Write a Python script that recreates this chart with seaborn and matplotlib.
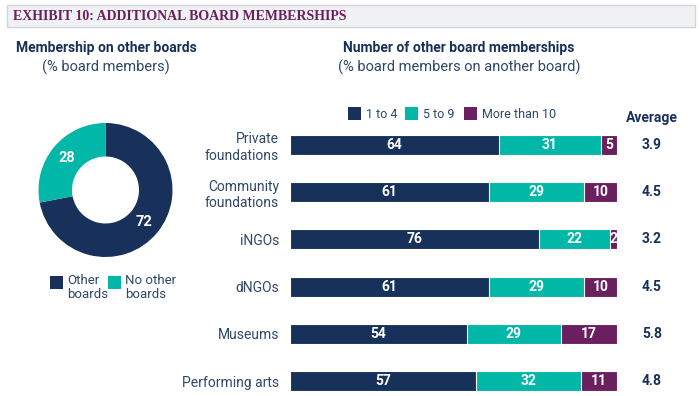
import matplotlib
matplotlib.use("Agg")
import matplotlib.pyplot as plt
from matplotlib.patches import Rectangle
from matplotlib.transforms import blended_transform_factory
import seaborn as sns
import pandas as pd
import numpy as np

# data read from the exhibit
categories = ["Private\nfoundations", "Community\nfoundations", "iNGOs", "dNGOs", "Museums", "Performing arts"]
one_to_four = [64, 61, 76, 61, 54, 57]
five_to_nine = [31, 29, 22, 29, 29, 32]
more_than_ten = [5, 10, 2, 10, 17, 11]
averages = ["3.9", "4.5", "3.2", "4.5", "5.8", "4.8"]

donut_labels = ["Other\nboards", "No other\nboards"]
donut_values = [72, 28]

NAVY = "#17315a"
TEAL = "#00b7a8"
PURPLE = "#6a1f5f"
TXT = "#2e4868"

sns.set_theme(style="white")
plt.rcParams["font.family"] = ["Roboto", "DejaVu Sans"]

fig = plt.figure(figsize=(7, 3.96), dpi=100)
W, H = 700, 396

def fx(px):
    return px / W

def fy(py):
    return 1 - py / H

# header band
fig.patches.append(Rectangle((fx(7), fy(27)), fx(688), 22 / H, transform=fig.transFigure,
                             facecolor="#f0f1f3", edgecolor="#d3d3df", lw=1))
fig.text(fx(13), fy(16.5), "EXHIBIT 10: ADDITIONAL BOARD MEMBERSHIPS", family="Liberation Serif",
         fontweight="bold", fontsize=10, color=PURPLE, va="center", ha="left")

# titles
fig.text(fx(106), fy(48), "Membership on other boards", fontsize=10, fontweight="bold",
         color=NAVY, ha="center", va="center")
fig.text(fx(106), fy(67), "(% board members)", fontsize=10.5, color=TXT, ha="center", va="center")
fig.text(fx(459), fy(48), "Number of other board memberships", fontsize=10, fontweight="bold",
         color=NAVY, ha="center", va="center")
fig.text(fx(459), fy(67), "(% board members on another board)", fontsize=10.5, color=TXT,
         ha="center", va="center")

# donut
r = 67
ax1 = fig.add_axes([fx(105.5 - r), fy(190 + r), 2 * r / W, 2 * r / H])
wedges, _ = ax1.pie(donut_values, colors=[NAVY, TEAL], startangle=90, counterclock=False,
                    wedgeprops=dict(width=0.5, edgecolor="none"))
for w, v in zip(wedges, donut_values):
    ang = np.deg2rad((w.theta1 + w.theta2) / 2)
    ax1.text(0.75 * np.cos(ang), 0.75 * np.sin(ang), str(v), color="white", fontsize=10.5,
             fontweight="bold", ha="center", va="center")
ax1.set_xlim(-1, 1)
ax1.set_ylim(-1, 1)
ax1.set_aspect("equal")
ax1.axis("off")

# donut legend
for x0, lab, col in [(50, donut_labels[0], NAVY), (108, donut_labels[1], TEAL)]:
    fig.patches.append(Rectangle((fx(x0), fy(289)), 13 / W, 13 / H, transform=fig.transFigure,
                                 facecolor=col, edgecolor="none"))
    fig.text(fx(x0 + 17), fy(274), lab, fontsize=9.5, color=TXT, ha="left", va="top",
             linespacing=1.15)

# stacked bars (draw cumulative totals, back to front)
df = pd.DataFrame({"cat": categories, "a": one_to_four, "b": five_to_nine, "c": more_than_ten})
df["ab"] = df["a"] + df["b"]
df["abc"] = df["ab"] + df["c"]

unit = 47.2
top = 145 - unit / 2
ax2 = fig.add_axes([fx(290), 0, fx(327), (H - top) / H])
bh = 20 / unit
for col, colr in [("abc", PURPLE), ("ab", TEAL), ("a", NAVY)]:
    sns.barplot(data=df, x=col, y="cat", color=colr, width=bh, ax=ax2, orient="h",
                saturation=1, edgecolor="white", linewidth=0.8)
ax2.set_xlim(0, 100)
ax2.set_ylim(-0.5 + (H - top) / unit, -0.5)
avg_tr = blended_transform_factory(fig.transFigure, ax2.transData)
for i, row in df.iterrows():
    for left, v in [(0, row["a"]), (row["a"], row["b"]), (row["ab"], row["c"])]:
        ax2.text(left + v / 2, i, str(v), color="white", fontsize=10, fontweight="bold",
                 ha="center", va="center")
    ax2.text(fx(652), i, averages[i], transform=avg_tr, ha="center",
             va="center", fontsize=10, fontweight="bold", color=NAVY)
ax2.set_xlabel("")
ax2.set_ylabel("")
ax2.set_xticks([])
ax2.tick_params(axis="y", length=0, pad=8, labelsize=10, labelcolor=TXT)
for lab in ax2.get_yticklabels():
    lab.set_linespacing(1.2)
sns.despine(ax=ax2, left=True, bottom=True)
ax2.patch.set_alpha(0)

# averages heading and bar legend
fig.text(fx(652), fy(118), "Average", fontsize=10, fontweight="bold", color=NAVY,
         ha="center", va="center")
for x0, lab, col in [(348, "1 to 4", NAVY), (405, "5 to 9", TEAL), (464, "More than 10", PURPLE)]:
    fig.patches.append(Rectangle((fx(x0), fy(120)), 13 / W, 13 / H, transform=fig.transFigure,
                                 facecolor=col, edgecolor="none"))
    fig.text(fx(x0 + 18), fy(114), lab, fontsize=9, color=TXT, ha="left", va="center")

fig.savefig("out.png", dpi=100)
